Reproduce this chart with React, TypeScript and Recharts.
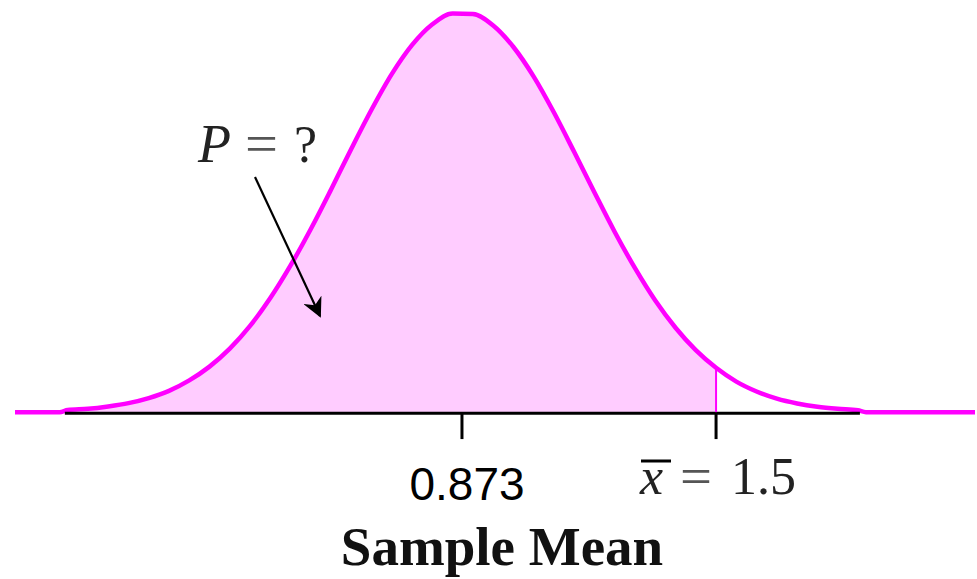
import { Area, ComposedChart, Line, ReferenceLine, XAxis, YAxis } from 'recharts'

// sample mean values along the axis and the curve height read at each one
const sampleMeans = [
  -0.23, -0.12, -0.1, -0.05, 0, 0.05, 0.1, 0.15, 0.2, 0.25, 0.3, 0.35, 0.4, 0.45, 0.5, 0.55,
  0.6, 0.65, 0.7, 0.75, 0.8, 0.85, 0.9, 0.95, 1, 1.05, 1.1, 1.15, 1.2, 1.25, 1.3, 1.35, 1.4,
  1.45, 1.5, 1.55, 1.6, 1.65, 1.7, 1.75, 1.8, 1.85, 1.87, 2.139,
]
const density = [
  0, 0, 0.007, 0.011, 0.019, 0.03, 0.047, 0.071, 0.106, 0.152, 0.212, 0.288, 0.381, 0.49,
  0.612, 0.744, 0.88, 1.011, 1.13, 1.227, 1.296, 1.332, 1.33, 1.292, 1.22, 1.121, 1.001, 0.869,
  0.734, 0.602, 0.481, 0.373, 0.282, 0.207, 0.148, 0.102, 0.069, 0.045, 0.029, 0.018, 0.011,
  0.006, 0, 0,
]

const mean = 0.873
const cutoff = 1.5
const axisStart = -0.107
const axisEnd = 1.855

const rows = sampleMeans.map((x, i) => ({
  x,
  curve: density[i],
  shaded: x <= cutoff ? density[i] : null,
}))
const cutoffHeight = density[sampleMeans.indexOf(cutoff)]

const MAGENTA = '#ff00ff'
const PINK = '#ffccff'
const SERIF = '"Liberation Serif", "Times New Roman", serif'

export default function App() {
  return (
    <div style={{ position: 'absolute', left: 0, top: 0, width: 977, height: 579, background: '#fff' }}>
      <ComposedChart
        width={977}
        height={579}
        data={rows}
        margin={{ top: 0, right: 2, bottom: 107, left: 15 }}
      >
        <XAxis type="number" dataKey="x" domain={[-0.23, 2.139]} hide />
        <YAxis type="number" domain={[-0.2, 1.377]} hide />
        <Area
          type="monotone"
          dataKey="shaded"
          fill={PINK}
          fillOpacity={1}
          stroke="none"
          baseValue={0}
          isAnimationActive={false}
        />
        <Line
          type="monotone"
          dataKey="curve"
          stroke={MAGENTA}
          strokeWidth={4.5}
          dot={false}
          activeDot={false}
          isAnimationActive={false}
        />
        {/* black axis sits just under the magenta baseline */}
        <ReferenceLine
          segment={[{ x: axisStart, y: -0.004 }, { x: axisEnd, y: -0.004 }]}
          stroke="#000"
          strokeWidth={3}
          ifOverflow="visible"
        />
        <ReferenceLine
          segment={[{ x: cutoff, y: 0 }, { x: cutoff, y: cutoffHeight }]}
          stroke={MAGENTA}
          strokeWidth={2}
          ifOverflow="visible"
        />
        <ReferenceLine
          segment={[{ x: mean, y: -0.004 }, { x: mean, y: -0.09 }]}
          stroke="#000"
          strokeWidth={3}
          ifOverflow="visible"
        />
        <ReferenceLine
          segment={[{ x: cutoff, y: -0.004 }, { x: cutoff, y: -0.09 }]}
          stroke="#000"
          strokeWidth={3}
          ifOverflow="visible"
        />
      </ComposedChart>
      <svg
        width={977}
        height={579}
        style={{ position: 'absolute', left: 0, top: 0, pointerEvents: 'none' }}
      >
        <defs>
          <marker id="head" viewBox="0 0 10 10" refX="9" refY="5" markerWidth="9" markerHeight="9" orient="auto">
            <path d="M0,0 L10,5 L0,10 L3,5 z" fill="#000" />
          </marker>
        </defs>
        <text x={198} y={162} fontFamily={SERIF} fontStyle="italic" fontSize={54} fill="#222">
          P
        </text>
        <text x={245} y={162} fontFamily={SERIF} fontSize={54} fill="#555" textLength={33} lengthAdjust="spacingAndGlyphs">
          =
        </text>
        <text x={294} y={162} fontFamily={SERIF} fontSize={52} fill="#222">
          ?
        </text>
        <line x1={255} y1={177} x2={320} y2={316} stroke="#000" strokeWidth={2.2} markerEnd="url(#head)" />
        <text x={467} y={500} textAnchor="middle" fontFamily='"Liberation Sans", Arial, sans-serif' fontSize={46} fill="#000">
          0.873
        </text>
        <text x={640} y={494} fontFamily={SERIF} fontStyle="italic" fontSize={52} fill="#222">
          x
        </text>
        <line x1={641} y1={461} x2={671} y2={461} stroke="#000" strokeWidth={3} />
        <text x={680} y={494} fontFamily={SERIF} fontSize={52} fill="#555" textLength={32} lengthAdjust="spacingAndGlyphs">
          =
        </text>
        <text x={731} y={494} fontFamily={SERIF} fontSize={52} fill="#222">
          1.5
        </text>
        <text x={502} y={565} textAnchor="middle" fontFamily={SERIF} fontWeight="bold" fontSize={55} fill="#111">
          Sample Mean
        </text>
      </svg>
    </div>
  )
}
